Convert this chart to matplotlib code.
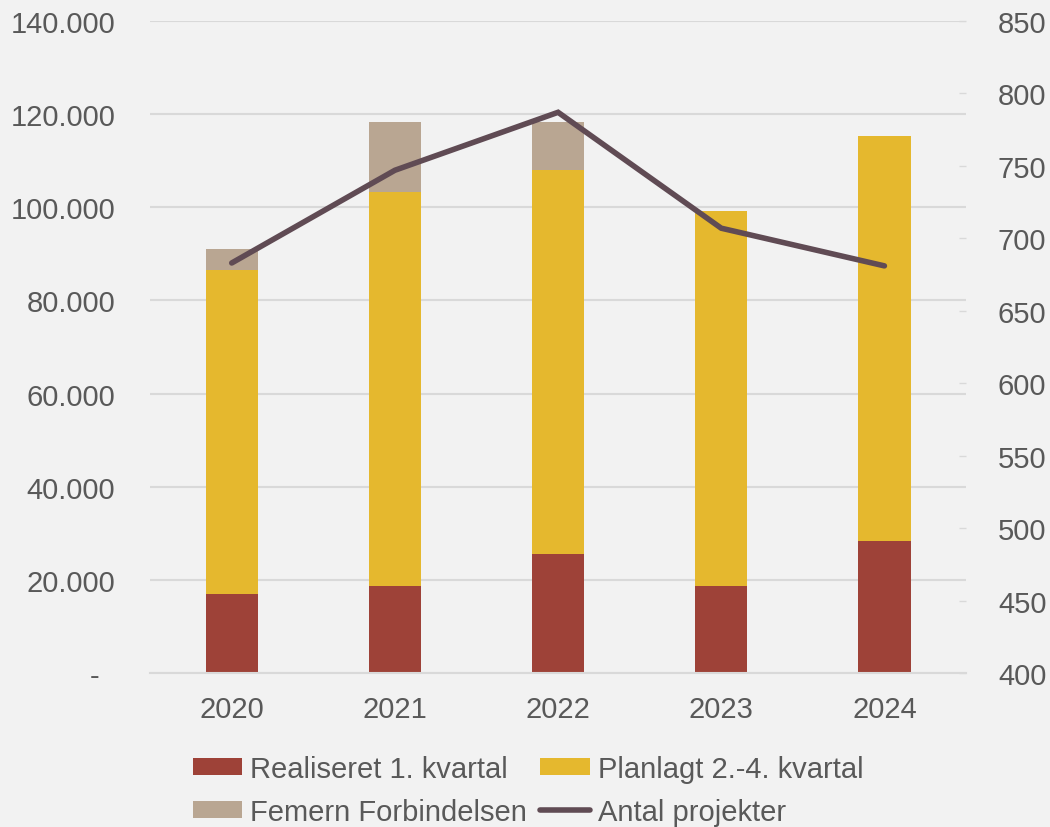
import matplotlib.pyplot as plt
import numpy as np
from matplotlib.ticker import FuncFormatter

plt.rcParams['font.family'] = ['Liberation Sans', 'DejaVu Sans']

years = ['2020', '2021', '2022', '2023', '2024']
realiseret = [17000, 18600, 25550, 18700, 28300]
planlagt = [69600, 84700, 82500, 80400, 87000]
femern = [4400, 15100, 10200, 0, 0]
antal_projekter = [683, 747, 787, 707, 681]

c_red = '#9e4238'
c_yellow = '#e5b82e'
c_tan = '#b9a692'
c_line = '#604b54'
c_text = '#595959'
c_grid = '#d9d9d9'
bg = '#f2f2f2'

fig = plt.figure(figsize=(10.5, 8.28), dpi=100, facecolor=bg)
ax = fig.add_axes([0.143, 0.186, 0.777, 0.7874])
ax.set_facecolor(bg)

x = np.arange(len(years))
w = 0.32
bottom2 = np.array(realiseret)
bottom3 = bottom2 + np.array(planlagt)
b1 = ax.bar(x, realiseret, w, color=c_red, label='Realiseret 1. kvartal', zorder=2)
b2 = ax.bar(x, planlagt, w, bottom=bottom2, color=c_yellow, label='Planlagt 2.-4. kvartal', zorder=2)
b3 = ax.bar(x, femern, w, bottom=bottom3, color=c_tan, label='Femern Forbindelsen', zorder=2)

ax.set_xlim(-0.5, 4.5)
ax.set_ylim(0, 140000)
ax.set_yticks(np.arange(0, 140001, 20000))


def thousands(v, pos):
    # nul vises som en streg
    if v == 0:
        return '-  '
    return f'{int(v):,}'.replace(',', '.')


ax.yaxis.set_major_formatter(FuncFormatter(thousands))
ax.grid(axis='y', color=c_grid, linewidth=1.5, zorder=0)
ax.set_axisbelow(True)
ax.set_xticks(x)
ax.set_xticklabels(years)
ax.tick_params(axis='x', length=0, pad=16, labelsize=21, colors=c_text)
ax.tick_params(axis='y', length=0, pad=25, labelsize=21, colors=c_text)
for s in ax.spines.values():
    s.set_visible(False)
ax.spines['bottom'].set_visible(True)
ax.spines['bottom'].set_color(c_grid)
ax.spines['bottom'].set_linewidth(1.5)

ax2 = ax.twinx()
ln, = ax2.plot(x, antal_projekter, color=c_line, linewidth=4,
               solid_capstyle='round', solid_joinstyle='miter', label='Antal projekter', zorder=3)
ax2.set_ylim(400, 850)
ax2.set_yticks(np.arange(400, 851, 50))
ax2.tick_params(axis='y', length=5, width=1, direction='in',
                pad=23, labelsize=21, labelcolor=c_text, color=c_grid)
for s in ax2.spines.values():
    s.set_visible(False)

leg = fig.legend([b1, b3, b2, ln],
                 ['Realiseret 1. kvartal', 'Femern Forbindelsen',
                  'Planlagt 2.-4. kvartal', 'Antal projekter'],
                 ncol=2, loc='upper center', bbox_to_anchor=(0.503, 0.087),
                 frameon=False, fontsize=21, handlelength=1.7, handleheight=0.5,
                 handletextpad=0.28, columnspacing=0.45, labelspacing=0.5,
                 borderpad=0, borderaxespad=0)
for t in leg.get_texts():
    t.set_color(c_text)

fig.savefig('out.png', dpi=100, facecolor=bg)
